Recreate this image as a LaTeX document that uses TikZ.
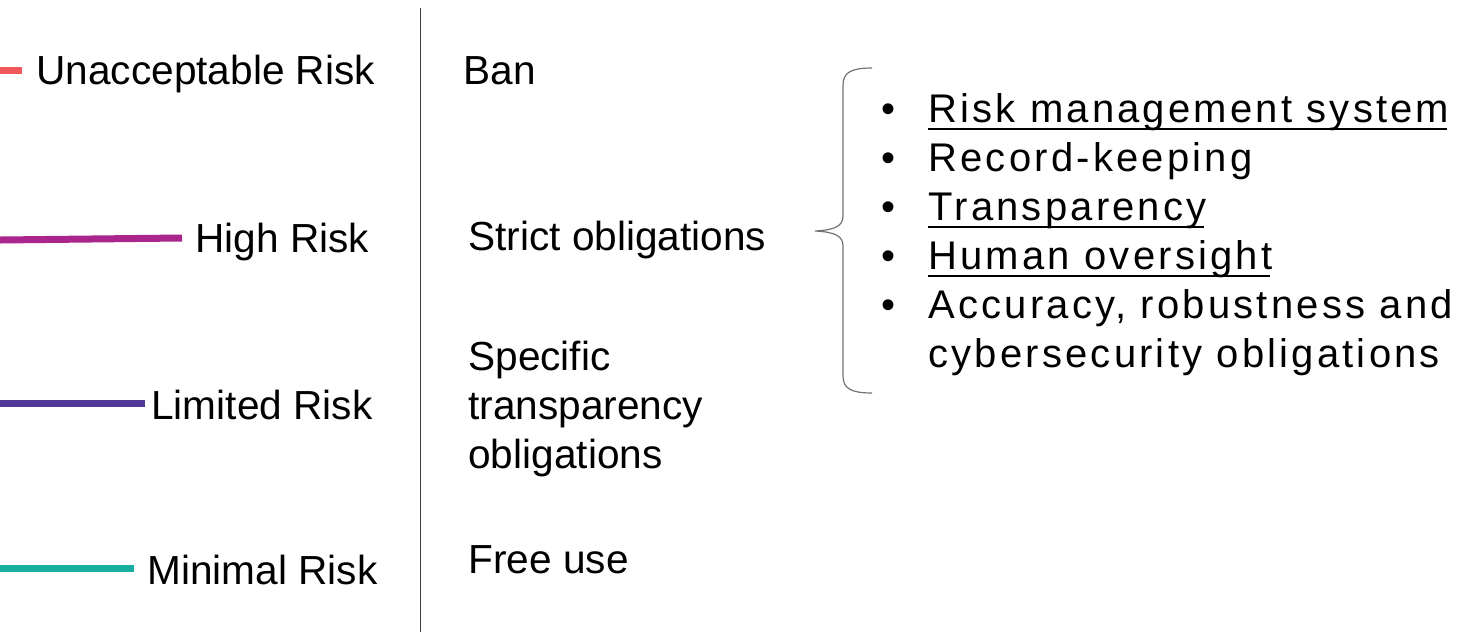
\documentclass[tikz,border=0pt]{standalone}
\usepackage{fontspec}
\setmainfont{Liberation Sans}
\newfontfamily\listfont[LetterSpace=8]{Liberation Sans}
\usetikzlibrary{positioning}
\definecolor{unaccred}{RGB}{240,88,92}
\definecolor{highmag}{RGB}{170,38,140}
\definecolor{limpurple}{RGB}{82,56,150}
\definecolor{minteal}{RGB}{24,174,160}
\tikzset{
  risklabel/.style={anchor=base west,inner sep=0pt,font=\fontsize{20.3}{24.5}\selectfont},
  rulelabel/.style={anchor=base west,inner sep=0pt,align=left,font=\fontsize{20.3}{24.5}\selectfont},
  listitem/.style={anchor=base west,inner sep=0pt,font=\listfont\fontsize{20}{24.5}\selectfont},
  riskbar/.style={line width=3.5pt}
}

\begin{document}
\begin{tikzpicture}[x=0.5pt,y=-0.5pt]
  \useasboundingbox (0,0) rectangle (1471,632);
  \draw[black!75,line width=0.7pt] (420.5,8) -- (420.5,632);
  % risk levels
  \draw[riskbar,unaccred] (0,70) -- (22,70);
  \draw[riskbar,highmag] (0,240) -- (182,238);
  \draw[riskbar,limpurple] (0,403) -- (145,403);
  \draw[riskbar,minteal] (0,568) -- (134,568);
  \node[risklabel] (unacc) at (36,84) {Unacceptable Risk};
  \node[risklabel] (high) at (195,252) {High Risk};
  \node[risklabel] (limited) at (151,419) {Limited Risk};
  \node[risklabel] (minimal) at (147,584) {Minimal Risk};
  % what the rules say (base = last line)
  \node[rulelabel] (ban) at (463,84) {Ban};
  \node[rulelabel] (strict) at (468,250) {Strict obligations};
  \node[rulelabel] (specific) at (468,468) {Specific\\transparency\\obligations};
  \node[rulelabel] (free) at (468,573) {Free use};
  % brace
  \draw[black!55,line width=0.6pt] (872,68) .. controls (852,68) and (843,72) .. (843,85) -- (843,216)
    .. controls (843,226) and (835,230) .. (815,231) .. controls (835,232) and (843,236) .. (843,246)
    -- (843,376) .. controls (843,389) and (852,393) .. (872,393);
  % obligations of high risk
  \foreach \i/\txt/\ul in {1/Risk management system/1,2/Record-keeping/0,3/Transparency/1,
      4/Human oversight/1,5/{Accuracy, robustness and}/0,6/cybersecurity obligations/0} {
    \pgfmathsetmacro{\ybase}{122+49*(\i-1)}
    \node[listitem] (item\i) at (928,\ybase) {\txt};
    \ifnum\i<6
      \node[listitem] (dot\i) at (881,\ybase) {\textbullet};
    \fi
    \ifnum\ul=1
      \draw[line width=1.2pt] ([yshift=-3.5pt]item\i.base west) -- ([yshift=-3.5pt,xshift=-1.6pt]item\i.base east);
    \fi
  }
\end{tikzpicture}
\end{document}
